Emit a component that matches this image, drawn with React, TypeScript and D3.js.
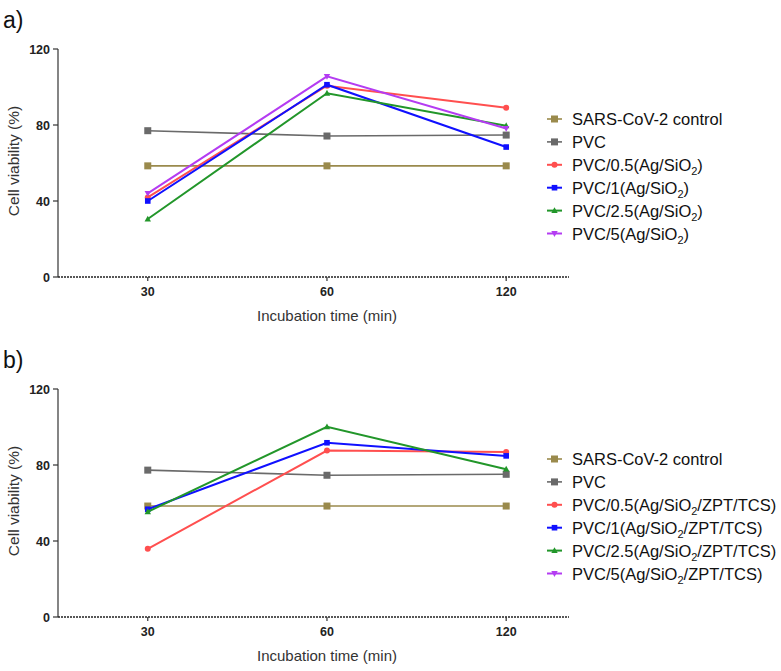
import React from "react";
import * as d3 from "d3";

const timePoints = [30, 60, 120];
const yTicks = [0, 40, 80, 120];

const seriesNamesA = [
  ["SARS-CoV-2 control", ""],
  ["PVC", ""],
  ["PVC/0.5(Ag/SiO", "2", ")"],
  ["PVC/1(Ag/SiO", "2", ")"],
  ["PVC/2.5(Ag/SiO", "2", ")"],
  ["PVC/5(Ag/SiO", "2", ")"],
];
const seriesNamesB = [
  ["SARS-CoV-2 control", ""],
  ["PVC", ""],
  ["PVC/0.5(Ag/SiO", "2", "/ZPT/TCS)"],
  ["PVC/1(Ag/SiO", "2", "/ZPT/TCS)"],
  ["PVC/2.5(Ag/SiO", "2", "/ZPT/TCS)"],
  ["PVC/5(Ag/SiO", "2", "/ZPT/TCS)"],
];

// Panel a values
const controlA = [58.5, 58.5, 58.5];
const pvcA = [77, 74.2, 74.7];
const pvc05A = [41.9, 100.7, 89.1];
const pvc1A = [40, 101.2, 68.4];
const pvc25A = [30.5, 96.7, 79.6];
const pvc5A = [44, 105.6, 78.2];

// Panel b values
const controlB = [58.4, 58.4, 58.4];
const pvcB = [77.3, 74.6, 75.1];
const pvc05B = [35.9, 87.6, 86.8];
const pvc1B = [56.7, 91.7, 84.8];
const pvc25B = [55.4, 100.1, 77.8];
const pvc5B: number[] = [];

const colors = ["#9a8a4c", "#6a6a6a", "#ff4f4f", "#1010ff", "#22962a", "#b43cf2"];
const markers = ["bigsquare", "bigsquare", "circle", "square", "triangle", "itriangle"];
const widths = [1.6, 1.6, 2, 2, 2, 2];

const FONT = "Liberation Sans, Arial, Helvetica, sans-serif";

function Marker({ type, x, y, color }: { type: string; x: number; y: number; color: string }) {
  if (type === "bigsquare") return <rect x={x - 3.5} y={y - 3.5} width={7} height={7} fill={color} />;
  if (type === "square") return <rect x={x - 2.8} y={y - 2.8} width={5.6} height={5.6} fill={color} />;
  if (type === "circle") return <circle cx={x} cy={y} r={3} fill={color} />;
  if (type === "triangle") return <path d={`M${x},${y - 3.4}L${x + 3.2},${y + 2.4}L${x - 3.2},${y + 2.4}Z`} fill={color} />;
  return <path d={`M${x},${y + 3.4}L${x + 3.2},${y - 2.4}L${x - 3.2},${y - 2.4}Z`} fill={color} />;
}

function Panel({ top, label, data, names }: { top: number; label: string; data: number[][]; names: string[][] }) {
  const yBottom = top + 228;
  const yTop = top;
  const x = d3.scaleLog().base(2).domain([21.2, 153]).range([58, 569]);
  const y = d3.scaleLinear().domain([0, 120]).range([yBottom, yTop]);
  const line = d3
    .line<number>()
    .x((_, i) => x(timePoints[i]))
    .y((d) => y(d));
  const legendY0 = top + 70;
  const legendStep = 22.9;
  return (
    <g>
      <text x={3} y={top - 21} fontSize={23} fontFamily={FONT} fill="#111">
        {label}
      </text>
      {/* y axis */}
      <line x1={58} x2={58} y1={yTop} y2={yBottom} stroke="#333" strokeWidth={1.2} />
      {yTicks.map((t) => (
        <g key={t}>
          <line x1={53} x2={58} y1={y(t)} y2={y(t)} stroke="#333" strokeWidth={1.2} />
          <text x={50} y={y(t) + 4.5} fontSize={12.5} fontWeight="bold" textAnchor="end" fontFamily={FONT} fill="#222">
            {t}
          </text>
        </g>
      ))}
      {/* x axis */}
      <line x1={58} x2={569} y1={yBottom} y2={yBottom} stroke="#222" strokeWidth={1.6} strokeDasharray="2,1" />
      {timePoints.map((t) => (
        <g key={t}>
          <line x1={x(t)} x2={x(t)} y1={yBottom} y2={yBottom + 4} stroke="#333" strokeWidth={1.2} />
          <text x={x(t)} y={yBottom + 19} fontSize={12.5} fontWeight="bold" textAnchor="middle" fontFamily={FONT} fill="#222">
            {t}
          </text>
        </g>
      ))}
      <text
        transform={`translate(19,${(yTop + yBottom) / 2 - 2}) rotate(-90)`}
        fontSize={15.5}
        textAnchor="middle"
        fontFamily={FONT}
        fill="#333"
      >
        Cell viability (%)
      </text>
      <text x={327} y={yBottom + 44} fontSize={15} textAnchor="middle" fontFamily={FONT} fill="#333">
        Incubation time (min)
      </text>
      {/* series */}
      {data.map((vals, si) =>
        vals.length ? (
          <g key={si}>
            <path d={line(vals) || ""} fill="none" stroke={colors[si]} strokeWidth={widths[si]} />
            {vals.map((v, i) => (
              <Marker key={i} type={markers[si]} x={x(timePoints[i])} y={y(v)} color={colors[si]} />
            ))}
          </g>
        ) : null
      )}
      {/* legend */}
      {names.map((nm, i) => {
        const ly = legendY0 + i * legendStep;
        return (
          <g key={i}>
            <line x1={547} x2={562} y1={ly} y2={ly} stroke={colors[i]} strokeWidth={widths[i]} />
            <Marker type={markers[i]} x={554.5} y={ly} color={colors[i]} />
            <text x={572} y={ly + 6} fontSize={16.5} fontFamily={FONT} fill="#111">
              {nm[0]}
              {nm[1] ? (
                <tspan fontSize={11} dy={4}>
                  {nm[1]}
                </tspan>
              ) : null}
              {nm[2] ? <tspan dy={-4}>{nm[2]}</tspan> : null}
            </text>
          </g>
        );
      })}
    </g>
  );
}

export default function App() {
  return (
    <svg
      width={781}
      height={671}
      style={{ position: "absolute", left: 0, top: 0, background: "#fff" }}
      xmlns="http://www.w3.org/2000/svg"
    >
      <rect width={781} height={671} fill="#fff" />
      <Panel top={49} label="a)" data={[controlA, pvcA, pvc05A, pvc1A, pvc25A, pvc5A]} names={seriesNamesA} />
      <Panel top={389} label="b)" data={[controlB, pvcB, pvc05B, pvc1B, pvc25B, pvc5B]} names={seriesNamesB} />
    </svg>
  );
}
